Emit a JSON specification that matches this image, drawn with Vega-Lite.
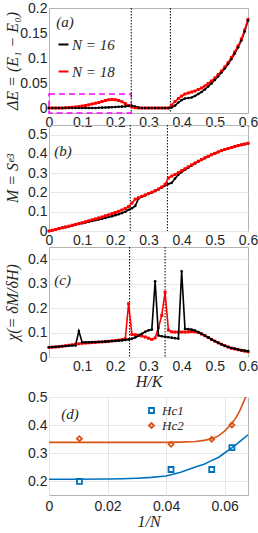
{
  "$schema": "https://vega.github.io/schema/vega-lite/v6.json",
  "background": "white",
  "padding": {"left": 3, "top": 0, "right": 0, "bottom": 0},
  "bounds": "flush",
  "spacing": 0,
  "config": {
    "view": {"stroke": "#b3b3b3", "strokeWidth": 1},
    "axis": {
      "labelFont": "Liberation Sans", "labelFontSize": 14, "labelColor": "#262626",
      "titleFont": "Liberation Serif", "titleFontStyle": "italic", "titleFontWeight": "normal",
      "titleFontSize": 16, "titleColor": "#262626",
      "domain": false, "ticks": false, "gridColor": "#e6e6e6", "gridWidth": 1,
      "labelPadding": 2, "format": "~g", "labelOverlap": false, "labelFlush": false, "tickCount": 20
    },
    "axisLeft": {"titleX": -29},
    "text": {"font": "Liberation Serif", "fontStyle": "italic", "fontSize": 15, "color": "#262626"}
  },
  "resolve": {"scale": {"color": "independent", "shape": "independent"}, "legend": {"color": "independent", "shape": "independent"}},
  "datasets": {
    "main": [
      {"H":0.00,"a16":0,"a18":0,"b16":0,"b18":0,"c16":0.040,"c18":0.039},
      {"H":0.01,"a16":0,"a18":0,"b16":0.004,"b18":0.004,"c16":0.041,"c18":0.040},
      {"H":0.02,"a16":0,"a18":0,"b16":0.008,"b18":0.008,"c16":0.042,"c18":0.041},
      {"H":0.03,"a16":0,"a18":0,"b16":0.012,"b18":0.012,"c16":0.043,"c18":0.042},
      {"H":0.04,"a16":0,"a18":0,"b16":0.016,"b18":0.017,"c16":0.044,"c18":0.044},
      {"H":0.05,"a16":0,"a18":0.0005,"b16":0.020,"b18":0.021,"c16":0.045,"c18":0.046},
      {"H":0.06,"a16":0,"a18":0.001,"b16":0.024,"b18":0.025,"c16":0.046,"c18":0.048},
      {"H":0.07,"a16":0,"a18":0.0015,"b16":0.028,"b18":0.030,"c16":0.047,"c18":0.050},
      {"H":0.08,"a16":0,"a18":0.002,"b16":0.032,"b18":0.034,"c16":0.047,"c18":0.052},
      {"H":0.09,"a16":0,"a18":0.003,"b16":0.036,"b18":0.039,"c16":0.106,"c18":0.054},
      {"H":0.10,"a16":0,"a18":0.004,"b16":0.040,"b18":0.043,"c16":0.060,"c18":0.056},
      {"H":0.11,"a16":0,"a18":0.005,"b16":0.044,"b18":0.048,"c16":0.060,"c18":0.057},
      {"H":0.12,"a16":0,"a18":0.0065,"b16":0.048,"b18":0.053,"c16":0.060,"c18":0.058},
      {"H":0.13,"a16":0,"a18":0.008,"b16":0.052,"b18":0.058,"c16":0.061,"c18":0.059},
      {"H":0.14,"a16":0,"a18":0.0095,"b16":0.056,"b18":0.063,"c16":0.061,"c18":0.060},
      {"H":0.15,"a16":0.0005,"a18":0.011,"b16":0.060,"b18":0.068,"c16":0.062,"c18":0.061},
      {"H":0.16,"a16":0.0007,"a18":0.013,"b16":0.064,"b18":0.073,"c16":0.062,"c18":0.062},
      {"H":0.17,"a16":0.001,"a18":0.015,"b16":0.068,"b18":0.079,"c16":0.063,"c18":0.063},
      {"H":0.18,"a16":0.0012,"a18":0.0165,"b16":0.073,"b18":0.084,"c16":0.064,"c18":0.064},
      {"H":0.19,"a16":0.0015,"a18":0.017,"b16":0.077,"b18":0.090,"c16":0.065,"c18":0.066},
      {"H":0.20,"a16":0.002,"a18":0.0165,"b16":0.082,"b18":0.096,"c16":0.066,"c18":0.067},
      {"H":0.21,"a16":0.0024,"a18":0.015,"b16":0.087,"b18":0.102,"c16":0.067,"c18":0.069},
      {"H":0.22,"a16":0.0028,"a18":0.0125,"b16":0.093,"b18":0.109,"c16":0.068,"c18":0.071},
      {"H":0.23,"a16":0.0033,"a18":0.009,"b16":0.100,"b18":0.117,"c16":0.070,"c18":0.074},
      {"H":0.24,"a16":0.004,"a18":0.005,"b16":0.110,"b18":0.127,"c16":0.072,"c18":0.218},
      {"H":0.25,"a16":0.0045,"a18":0.002,"b16":0.118,"b18":0.145,"c16":0.075,"c18":0.092},
      {"H":0.26,"a16":0.003,"a18":0.0005,"b16":0.130,"b18":0.165,"c16":0.080,"c18":0.091},
      {"H":0.27,"a16":0.001,"a18":0,"b16":0.168,"b18":0.172,"c16":0.087,"c18":0.089},
      {"H":0.28,"a16":0,"a18":0,"b16":0.178,"b18":0.180,"c16":0.095,"c18":0.086},
      {"H":0.29,"a16":0,"a18":0,"b16":0.186,"b18":0.187,"c16":0.103,"c18":0.082},
      {"H":0.30,"a16":0,"a18":0,"b16":0.193,"b18":0.194,"c16":0.109,"c18":0.077},
      {"H":0.31,"a16":0,"a18":0,"b16":0.200,"b18":0.201,"c16":0.112,"c18":0.072},
      {"H":0.32,"a16":0,"a18":0,"b16":0.208,"b18":0.209,"c16":0.310,"c18":0.078},
      {"H":0.33,"a16":0,"a18":0,"b16":0.216,"b18":0.218,"c16":0.088,"c18":0.120},
      {"H":0.34,"a16":0,"a18":0,"b16":0.226,"b18":0.228,"c16":0.085,"c18":0.170},
      {"H":0.35,"a16":0,"a18":0,"b16":0.236,"b18":0.242,"c16":0.083,"c18":0.265},
      {"H":0.36,"a16":0,"a18":0,"b16":0.244,"b18":0.275,"c16":0.081,"c18":0.110},
      {"H":0.37,"a16":0.001,"a18":0.006,"b16":0.250,"b18":0.285,"c16":0.079,"c18":0.103},
      {"H":0.38,"a16":0.005,"a18":0.013,"b16":0.272,"b18":0.293,"c16":0.077,"c18":0.102},
      {"H":0.39,"a16":0.011,"a18":0.019,"b16":0.292,"b18":0.303,"c16":0.075,"c18":0.102},
      {"H":0.40,"a16":0.016,"a18":0.024,"b16":0.306,"b18":0.313,"c16":0.350,"c18":0.102},
      {"H":0.41,"a16":0.019,"a18":0.028,"b16":0.318,"b18":0.323,"c16":0.115,"c18":0.102},
      {"H":0.42,"a16":0.020,"a18":0.030,"b16":0.329,"b18":0.333,"c16":0.114,"c18":0.103},
      {"H":0.43,"a16":0.021,"a18":0.032,"b16":0.340,"b18":0.343,"c16":0.112,"c18":0.104},
      {"H":0.44,"a16":0.024,"a18":0.034,"b16":0.350,"b18":0.353,"c16":0.108,"c18":0.103},
      {"H":0.45,"a16":0.028,"a18":0.037,"b16":0.360,"b18":0.362,"c16":0.102,"c18":0.100},
      {"H":0.46,"a16":0.032,"a18":0.040,"b16":0.369,"b18":0.371,"c16":0.095,"c18":0.094},
      {"H":0.47,"a16":0.037,"a18":0.044,"b16":0.378,"b18":0.380,"c16":0.088,"c18":0.087},
      {"H":0.48,"a16":0.043,"a18":0.049,"b16":0.387,"b18":0.388,"c16":0.080,"c18":0.080},
      {"H":0.49,"a16":0.049,"a18":0.054,"b16":0.395,"b18":0.396,"c16":0.072,"c18":0.072},
      {"H":0.50,"a16":0.056,"a18":0.060,"b16":0.403,"b18":0.403,"c16":0.065,"c18":0.065},
      {"H":0.51,"a16":0.063,"a18":0.067,"b16":0.410,"b18":0.410,"c16":0.058,"c18":0.058},
      {"H":0.52,"a16":0.071,"a18":0.074,"b16":0.417,"b18":0.417,"c16":0.052,"c18":0.052},
      {"H":0.53,"a16":0.079,"a18":0.082,"b16":0.423,"b18":0.423,"c16":0.046,"c18":0.046},
      {"H":0.54,"a16":0.088,"a18":0.091,"b16":0.428,"b18":0.428,"c16":0.041,"c18":0.041},
      {"H":0.55,"a16":0.098,"a18":0.101,"b16":0.433,"b18":0.433,"c16":0.037,"c18":0.036},
      {"H":0.56,"a16":0.109,"a18":0.112,"b16":0.438,"b18":0.438,"c16":0.034,"c18":0.033},
      {"H":0.57,"a16":0.121,"a18":0.124,"b16":0.443,"b18":0.443,"c16":0.031,"c18":0.030},
      {"H":0.58,"a16":0.135,"a18":0.138,"b16":0.447,"b18":0.447,"c16":0.028,"c18":0.027},
      {"H":0.59,"a16":0.153,"a18":0.156,"b16":0.451,"b18":0.451,"c16":0.026,"c18":0.024},
      {"H":0.60,"a16":0.175,"a18":0.177,"b16":0.455,"b18":0.455,"c16":0.024,"c18":0.022}
    ],
    "fits": [
      {"x":0,"y":0.206,"s":"Hc1"},{"x":0.01,"y":0.206,"s":"Hc1"},{"x":0.02,"y":0.207,"s":"Hc1"},
      {"x":0.025,"y":0.208,"s":"Hc1"},{"x":0.03,"y":0.210,"s":"Hc1"},{"x":0.035,"y":0.213,"s":"Hc1"},
      {"x":0.04,"y":0.218,"s":"Hc1"},{"x":0.045,"y":0.231,"s":"Hc1"},{"x":0.05,"y":0.250,"s":"Hc1"},
      {"x":0.053,"y":0.260,"s":"Hc1"},{"x":0.055,"y":0.270,"s":"Hc1"},{"x":0.058,"y":0.285,"s":"Hc1"},
      {"x":0.06,"y":0.300,"s":"Hc1"},{"x":0.062,"y":0.315,"s":"Hc1"},{"x":0.064,"y":0.331,"s":"Hc1"},
      {"x":0.066,"y":0.348,"s":"Hc1"},{"x":0.068,"y":0.365,"s":"Hc1"},
      {"x":0,"y":0.338,"s":"Hc2"},{"x":0.02,"y":0.338,"s":"Hc2"},{"x":0.04,"y":0.338,"s":"Hc2"},
      {"x":0.045,"y":0.339,"s":"Hc2"},{"x":0.05,"y":0.341,"s":"Hc2"},{"x":0.053,"y":0.345,"s":"Hc2"},
      {"x":0.056,"y":0.352,"s":"Hc2"},{"x":0.058,"y":0.362,"s":"Hc2"},{"x":0.06,"y":0.378,"s":"Hc2"},
      {"x":0.062,"y":0.400,"s":"Hc2"},{"x":0.063,"y":0.413,"s":"Hc2"},{"x":0.064,"y":0.428,"s":"Hc2"},
      {"x":0.065,"y":0.447,"s":"Hc2"},{"x":0.066,"y":0.470,"s":"Hc2"},{"x":0.0672,"y":0.500,"s":"Hc2"}
    ],
    "pts": [
      {"x":0.0104,"y":0.199,"s":"Hc1"},{"x":0.0417,"y":0.241,"s":"Hc1"},{"x":0.0556,"y":0.241,"s":"Hc1"},{"x":0.0625,"y":0.319,"s":"Hc1"},
      {"x":0.0104,"y":0.351,"s":"Hc2"},{"x":0.0417,"y":0.331,"s":"Hc2"},{"x":0.0556,"y":0.349,"s":"Hc2"},{"x":0.0625,"y":0.400,"s":"Hc2"}
    ]
  },
  "vconcat": [
    {
      "width": 199, "height": 105,
      "data": {"name": "main"},
      "layer": [
        {
          "data": {"values": [{}]},
          "mark": {"type": "rect", "fill": null, "stroke": "#ff00ff", "strokeDash": [6, 4], "strokeWidth": 1.5},
          "encoding": {
            "x": {"datum": 0, "type": "quantitative", "scale": {"domain": [0, 0.6], "nice": false}, "axis": {"values": [0, 0.1, 0.2, 0.3, 0.4, 0.5, 0.6], "tickCount": 20, "labelOverlap": false, "title": null}},
            "x2": {"datum": 0.248},
            "y": {"datum": -0.01, "type": "quantitative", "scale": {"domain": [-0.01, 0.2], "nice": false}, "axis": {"values": [0, 0.05, 0.1, 0.15, 0.2], "tickCount": 20, "labelOverlap": false, "title": "ΔE = (E₁ − E₀)"}},
            "y2": {"datum": 0.028}
          }
        },
        {
          "data": {"values": [{}]},
          "mark": {"type": "rule", "color": "#000000", "strokeDash": [1.5, 1.5], "strokeWidth": 1},
          "encoding": {"x": {"datum": 0.248, "type": "quantitative"}}
        },
        {
          "data": {"values": [{}]},
          "mark": {"type": "rule", "color": "#000000", "strokeDash": [1.5, 1.5], "strokeWidth": 1},
          "encoding": {"x": {"datum": 0.366, "type": "quantitative"}}
        },
        {
          "transform": [{"fold": ["a16", "a18"], "as": ["key", "v"]}],
          "mark": {"type": "line", "strokeWidth": 1.6},
          "encoding": {
            "x": {"field": "H", "type": "quantitative", "title": null},
            "y": {"field": "v", "type": "quantitative", "title": "ΔE = (E₁ − E₀)"},
            "color": {
              "field": "key", "type": "nominal",
              "scale": {"domain": ["a16", "a18"], "range": ["#000000", "#ff0000"]},
              "legend": {
                "orient": "none", "legendX": 7, "legendY": 29, "title": null, "padding": 0,
                "labelExpr": "datum.value == 'a16' ? 'N = 16' : 'N = 18'",
                "symbolType": "stroke", "symbolStrokeWidth": 2, "symbolSize": 100,
                "labelFont": "Liberation Serif", "labelFontStyle": "italic", "labelFontSize": 15,
                "labelColor": "#262626", "labelOffset": 1, "rowPadding": 11
              }
            }
          }
        },
        {
          "transform": [{"fold": ["a18"], "as": ["key", "v"]}],
          "mark": {"type": "square", "size": 9, "color": "#ff0000", "opacity": 1},
          "encoding": {"x": {"field": "H", "type": "quantitative", "title": null}, "y": {"field": "v", "type": "quantitative", "title": "ΔE = (E₁ − E₀)"}}
        },
        {
          "transform": [{"fold": ["a16"], "as": ["key", "v"]}],
          "mark": {"type": "circle", "size": 7, "color": "#000000", "opacity": 1},
          "encoding": {"x": {"field": "H", "type": "quantitative", "title": null}, "y": {"field": "v", "type": "quantitative", "title": "ΔE = (E₁ − E₀)"}}
        },
        {
          "data": {"values": [{"t": "(a)"}]},
          "mark": {"type": "text", "align": "left", "baseline": "middle"},
          "encoding": {"x": {"datum": 0.022, "type": "quantitative"}, "y": {"datum": 0.172, "type": "quantitative"}, "text": {"field": "t"}}
        }
      ]
    },
    {"width": 199, "height": 12, "data": {"values": []}, "mark": "point", "view": {"stroke": null}},
    {
      "width": 199, "height": 106,
      "data": {"name": "main"},
      "layer": [
        {
          "data": {"values": [{}]},
          "mark": {"type": "rule", "color": "#000000", "strokeDash": [1.5, 1.5], "strokeWidth": 1},
          "encoding": {
            "x": {"datum": 0.245, "type": "quantitative", "scale": {"domain": [0, 0.6], "nice": false}, "axis": {"values": [0, 0.1, 0.2, 0.3, 0.4, 0.5, 0.6], "tickCount": 20, "labelOverlap": false, "title": null}}
          }
        },
        {
          "data": {"values": [{}]},
          "mark": {"type": "rule", "color": "#000000", "strokeDash": [1.5, 1.5], "strokeWidth": 1},
          "encoding": {"x": {"datum": 0.357, "type": "quantitative"}}
        },
        {
          "mark": {"type": "line", "strokeWidth": 1.6, "color": "#000000"},
          "encoding": {
            "x": {"field": "H", "type": "quantitative", "title": null},
            "y": {"field": "b16", "type": "quantitative", "title": "M = Sᵉ³", "scale": {"domain": [0, 0.55], "nice": false}, "axis": {"values": [0, 0.1, 0.2, 0.3, 0.4, 0.5], "tickCount": 20, "labelOverlap": false}}
          }
        },
        {
          "mark": {"type": "circle", "size": 7, "color": "#000000", "opacity": 1},
          "encoding": {"x": {"field": "H", "type": "quantitative", "title": null}, "y": {"field": "b16", "type": "quantitative", "title": "M = Sᵉ³"}}
        },
        {
          "mark": {"type": "line", "strokeWidth": 1.6, "color": "#ff0000"},
          "encoding": {"x": {"field": "H", "type": "quantitative", "title": null}, "y": {"field": "b18", "type": "quantitative", "title": "M = Sᵉ³"}}
        },
        {
          "mark": {"type": "square", "size": 9, "color": "#ff0000", "opacity": 1},
          "encoding": {"x": {"field": "H", "type": "quantitative", "title": null}, "y": {"field": "b18", "type": "quantitative", "title": "M = Sᵉ³"}}
        },
        {
          "data": {"values": [{"t": "(b)"}]},
          "mark": {"type": "text", "align": "left", "baseline": "middle"},
          "encoding": {"x": {"datum": 0.016, "type": "quantitative"}, "y": {"datum": 0.413, "type": "quantitative"}, "text": {"field": "t"}}
        }
      ]
    },
    {"width": 199, "height": 16, "data": {"values": []}, "mark": "point", "view": {"stroke": null}},
    {
      "width": 199, "height": 110,
      "data": {"name": "main"},
      "layer": [
        {
          "data": {"values": [{}]},
          "mark": {"type": "rule", "color": "#000000", "strokeDash": [1.5, 1.5], "strokeWidth": 1},
          "encoding": {
            "x": {"datum": 0.243, "type": "quantitative", "scale": {"domain": [0, 0.6], "nice": false}, "axis": {"values": [0.1, 0.2, 0.3, 0.4, 0.5, 0.6], "tickCount": 20, "labelOverlap": false, "title": "H/K", "titleY": 16}}
          }
        },
        {
          "data": {"values": [{}]},
          "mark": {"type": "rule", "color": "#000000", "strokeDash": [1.5, 1.5], "strokeWidth": 1},
          "encoding": {"x": {"datum": 0.35, "type": "quantitative"}}
        },
        {
          "mark": {"type": "line", "strokeWidth": 1.6, "color": "#ff0000"},
          "encoding": {
            "x": {"field": "H", "type": "quantitative", "title": "H/K"},
            "y": {"field": "c18", "type": "quantitative", "title": "χ(= δM/δH)", "scale": {"domain": [0, 0.45], "nice": false}, "axis": {"values": [0, 0.1, 0.2, 0.3, 0.4], "tickCount": 20, "labelOverlap": false}}
          }
        },
        {
          "mark": {"type": "square", "size": 9, "color": "#ff0000", "opacity": 1},
          "encoding": {"x": {"field": "H", "type": "quantitative", "title": "H/K"}, "y": {"field": "c18", "type": "quantitative", "title": "χ(= δM/δH)"}}
        },
        {
          "mark": {"type": "line", "strokeWidth": 1.6, "color": "#000000"},
          "encoding": {"x": {"field": "H", "type": "quantitative", "title": "H/K"}, "y": {"field": "c16", "type": "quantitative", "title": "χ(= δM/δH)"}}
        },
        {
          "mark": {"type": "circle", "size": 7, "color": "#000000", "opacity": 1},
          "encoding": {"x": {"field": "H", "type": "quantitative", "title": "H/K"}, "y": {"field": "c16", "type": "quantitative", "title": "χ(= δM/δH)"}}
        },
        {
          "data": {"values": [{"t": "(c)"}]},
          "mark": {"type": "text", "align": "left", "baseline": "middle"},
          "encoding": {"x": {"datum": 0.016, "type": "quantitative"}, "y": {"datum": 0.314, "type": "quantitative"}, "text": {"field": "t"}}
        }
      ]
    },
    {"width": 199, "height": 40, "data": {"values": []}, "mark": "point", "view": {"stroke": null}},
    {
      "width": 199, "height": 98,
      "layer": [
        {
          "data": {"name": "fits"},
          "transform": [{"filter": "datum.s == 'Hc1'"}],
          "mark": {"type": "line", "strokeWidth": 1.6, "color": "#0072BD", "clip": true},
          "encoding": {
            "x": {"field": "x", "type": "quantitative", "title": "1/N", "scale": {"domain": [0, 0.068], "nice": false}, "axis": {"values": [0, 0.02, 0.04, 0.06], "tickCount": 20, "labelOverlap": false, "titleY": 18, "labelPadding": 4}},
            "y": {"field": "y", "type": "quantitative", "title": null, "scale": {"domain": [0.15, 0.5], "nice": false}, "axis": {"values": [0.2, 0.3, 0.4, 0.5], "tickCount": 20, "labelOverlap": false}}
          }
        },
        {
          "data": {"name": "fits"},
          "transform": [{"filter": "datum.s == 'Hc2'"}],
          "mark": {"type": "line", "strokeWidth": 1.6, "color": "#D95319", "clip": true},
          "encoding": {"x": {"field": "x", "type": "quantitative", "title": "1/N"}, "y": {"field": "y", "type": "quantitative", "title": null}}
        },
        {
          "data": {"name": "pts"},
          "mark": {"type": "point", "filled": false, "strokeWidth": 1.8, "size": 25, "opacity": 1},
          "encoding": {
            "x": {"field": "x", "type": "quantitative", "title": "1/N"},
            "y": {"field": "y", "type": "quantitative", "title": null},
            "color": {"field": "s", "type": "nominal", "scale": {"domain": ["Hc1", "Hc2"], "range": ["#0072BD", "#D95319"]},
              "legend": {"orient": "none", "legendX": 96, "legendY": 7, "title": null, "padding": 0, "symbolSize": 25, "symbolStrokeWidth": 1.8,
                "labelFont": "Liberation Serif", "labelFontStyle": "italic", "labelFontSize": 13, "labelColor": "#262626", "labelOffset": 4, "rowPadding": 1}},
            "shape": {"field": "s", "type": "nominal", "scale": {"domain": ["Hc1", "Hc2"], "range": ["square", "diamond"]},
              "legend": {"orient": "none", "legendX": 96, "legendY": 7, "title": null, "padding": 0, "symbolSize": 25, "symbolStrokeWidth": 1.8,
                "labelFont": "Liberation Serif", "labelFontStyle": "italic", "labelFontSize": 13, "labelColor": "#262626", "labelOffset": 4, "rowPadding": 1}}
          }
        },
        {
          "data": {"values": [{"t": "(d)"}]},
          "mark": {"type": "text", "align": "left", "baseline": "middle"},
          "encoding": {"x": {"datum": 0.0042, "type": "quantitative"}, "y": {"datum": 0.439, "type": "quantitative"}, "text": {"field": "t"}}
        }
      ]
    }
  ]
}
